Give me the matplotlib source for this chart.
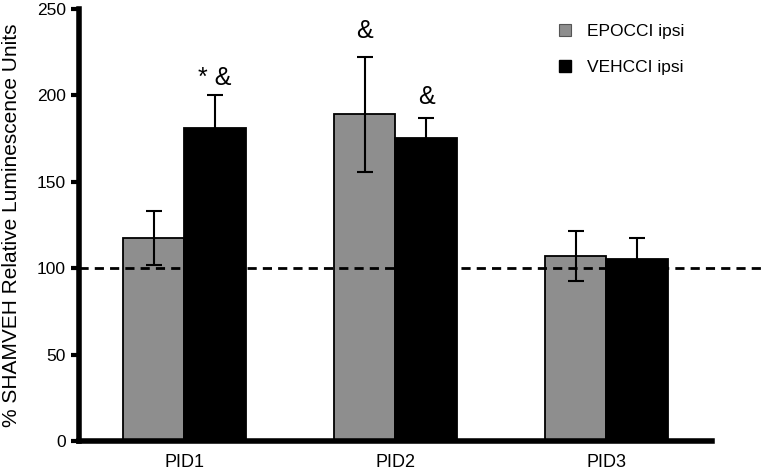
import matplotlib.pyplot as plt
import numpy as np
from matplotlib.patches import Patch

# Data
groups = ['PID1', 'PID2', 'PID3']
epo_mean = [117.5, 189, 107]
epo_err = [15.5, 33.5, 14.5]
veh_mean = [181, 175.5, 105.5]
veh_err = [19.5, 11.5, 12]
series_labels = ['EPOCCI ipsi', 'VEHCCI ipsi']

# significance marks: (group index, series offset, y, text)
sig_groups = [0, 1, 1]
sig_series = [1, 0, 1]
sig_y = [210, 237, 199]
sig_text = ['* &', '&', '&']

plt.rcParams['font.family'] = ['Liberation Sans', 'DejaVu Sans']

fig = plt.figure(figsize=(7.66, 4.74), dpi=100)
ax = fig.add_axes([0.1031, 0.0696, 0.8264, 0.9114])

x = np.arange(len(groups))
w = 0.29
gray = '#8e8e8e'
ax.bar(x - w / 2, epo_mean, w, color=gray, edgecolor='black', linewidth=1.3, zorder=2)
ax.bar(x + w / 2, veh_mean, w, color='black', edgecolor='black', linewidth=1.3, zorder=2)
ax.errorbar(x - w / 2, epo_mean, yerr=epo_err, fmt='none', ecolor='black',
            elinewidth=1.5, capsize=5.5, capthick=1.5, zorder=3)
ax.errorbar(x + w / 2, veh_mean, yerr=veh_err, fmt='none', ecolor='black',
            elinewidth=1.5, capsize=5.5, capthick=1.5, zorder=3)

# reference line at 100 %, running past the right end of the axis
ax.plot([0, 1.09], [100, 100], transform=ax.get_yaxis_transform(),
        color='black', lw=2, ls=(0, (3.3, 2.2)), clip_on=False, zorder=2.5)

for g, s, yv, t in zip(sig_groups, sig_series, sig_y, sig_text):
    xpos = g - w / 2 if s == 0 else g + w / 2
    ax.text(xpos, yv, t, ha='center', va='center', fontsize=18)

ax.set_xlim(-0.5, 2.5)
ax.set_ylim(0, 250)
ax.set_yticks(range(0, 251, 50))
ax.set_xticks(x)
ax.set_xticklabels(groups, fontsize=13)
ax.tick_params(axis='x', length=0, pad=9)
ax.tick_params(axis='y', labelsize=12.5, width=3, length=5.5, pad=4)
ax.set_ylabel('% SHAMVEH Relative Luminescence Units', fontsize=15)
ax.yaxis.set_label_coords(-0.092, 0.5)

for side in ['top', 'right']:
    ax.spines[side].set_visible(False)
ax.spines['left'].set_linewidth(4)
ax.spines['bottom'].set_linewidth(4)

handles = [Patch(facecolor=gray, edgecolor='#555555', linewidth=0.8),
           Patch(facecolor='black', edgecolor='black')]
ax.legend(handles, series_labels, loc='upper left', bbox_to_anchor=(0.745, 0.985),
          frameon=False, fontsize=12.5, handlelength=0.7, handleheight=0.7,
          handletextpad=0.9, labelspacing=1.2, borderpad=0)

fig.savefig('out.png', dpi=100)
